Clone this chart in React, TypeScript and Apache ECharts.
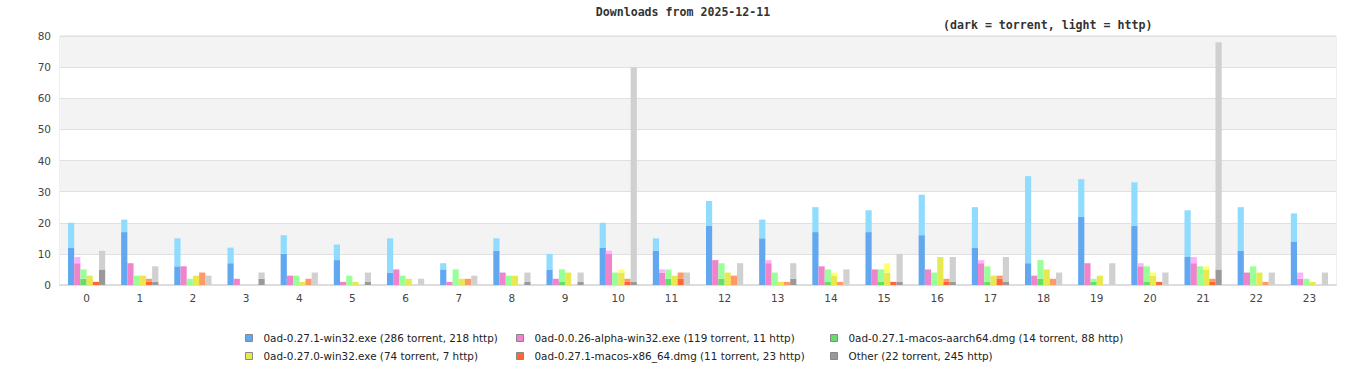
import React, { useEffect, useRef } from "react";
import * as echarts from "echarts";

const hours = Array.from({ length: 24 }, (_, i) => String(i));

const fileNames = [
  "0ad-0.27.1-win32.exe (286 torrent, 218 http)",
  "0ad-0.0.26-alpha-win32.exe (119 torrent, 11 http)",
  "0ad-0.27.1-macos-aarch64.dmg (14 torrent, 88 http)",
  "0ad-0.27.0-win32.exe (74 torrent, 7 http)",
  "0ad-0.27.1-macos-x86_64.dmg (11 torrent, 23 http)",
  "Other (22 torrent, 245 http)",
];

// torrent (dark) and http (light) downloads per hour
const win32Torrent = [12, 17, 6, 7, 10, 8, 4, 5, 11, 5, 12, 11, 19, 15, 17, 17, 16, 12, 7, 22, 19, 9, 11, 14];
const win32Http = [8, 4, 9, 5, 6, 5, 11, 2, 4, 5, 8, 4, 8, 6, 8, 7, 13, 13, 28, 12, 14, 15, 14, 9];
const alphaTorrent = [7, 7, 6, 2, 3, 1, 5, 1, 4, 2, 10, 4, 8, 7, 6, 5, 5, 7, 3, 7, 6, 7, 4, 2];
const alphaHttp = [2, 0, 0, 0, 0, 0, 0, 0, 0, 0, 1, 1, 0, 1, 0, 0, 0, 1, 0, 0, 1, 2, 0, 2];
const aarchTorrent = [2, 0, 0, 0, 0, 0, 0, 0, 0, 1, 0, 2, 2, 0, 1, 1, 0, 1, 2, 1, 1, 0, 0, 0];
const aarchHttp = [3, 3, 2, 0, 3, 3, 3, 5, 3, 4, 4, 3, 5, 4, 4, 4, 4, 5, 6, 1, 5, 6, 6, 2];
const w270Torrent = [3, 3, 3, 0, 1, 1, 2, 2, 3, 4, 4, 3, 4, 1, 3, 4, 9, 3, 5, 3, 3, 5, 4, 1];
const w270Http = [0, 0, 0, 0, 0, 0, 0, 0, 0, 0, 1, 0, 0, 0, 1, 3, 0, 0, 0, 0, 1, 1, 0, 0];
const x86Torrent = [1, 1, 0, 0, 0, 0, 0, 0, 0, 0, 1, 2, 0, 0, 0, 1, 1, 2, 0, 0, 1, 1, 0, 0];
const x86Http = [0, 1, 4, 0, 2, 0, 0, 2, 0, 0, 1, 2, 3, 1, 1, 0, 1, 1, 2, 0, 0, 1, 1, 0];
const otherTorrent = [5, 1, 0, 2, 0, 1, 0, 0, 1, 1, 1, 0, 0, 2, 0, 1, 1, 1, 0, 0, 0, 5, 0, 0];
const otherHttp = [6, 5, 3, 2, 4, 3, 2, 3, 3, 3, 69, 4, 7, 5, 5, 9, 8, 8, 4, 7, 4, 73, 4, 4];

const yTicks = { min: 0, max: 80, interval: 10 };

const torrentData = [win32Torrent, alphaTorrent, aarchTorrent, w270Torrent, x86Torrent, otherTorrent];
const httpData = [win32Http, alphaHttp, aarchHttp, w270Http, x86Http, otherHttp];

const darkColors = ["#62a8f0", "#f084cc", "#66dd66", "#e8e850", "#ff6633", "#999999"];
const lightColors = ["#90dcff", "#ffb0ff", "#99ff99", "#ffff70", "#ff9966", "#d0d0d0"];

const legendColumns = [
  { left: 245, items: [0, 3] },
  { left: 516, items: [1, 4] },
  { left: 830, items: [2, 5] },
];

export default function App() {
  const ref = useRef<HTMLDivElement>(null);
  useEffect(() => {
    if (!ref.current) return;
    document.body.style.margin = "0";
    const chart = echarts.init(ref.current, null, { renderer: "svg" });
    const series: any[] = [];
    fileNames.forEach((name, i) => {
      series.push({
        name,
        type: "bar",
        stack: "s" + i,
        data: torrentData[i],
        itemStyle: { color: darkColors[i] },
        barCategoryGap: "30%",
        barGap: "0%",
      });
      series.push({
        name: name + " http",
        type: "bar",
        stack: "s" + i,
        data: httpData[i],
        itemStyle: { color: lightColors[i] },
        barCategoryGap: "30%",
        barGap: "0%",
      });
    });
    chart.setOption({
      animation: false,
      backgroundColor: "#ffffff",
      title: [
        {
          text: "Downloads from 2025-12-11",
          left: "center",
          top: 6,
          padding: 0,
          textStyle: {
            fontFamily: "DejaVu Sans Mono",
            fontWeight: "bold",
            fontSize: 11.6,
            color: "#333333",
          },
        },
        {
          text: "(dark = torrent, light = http)",
          left: 943,
          top: 19,
          padding: 0,
          textStyle: {
            fontFamily: "DejaVu Sans Mono",
            fontWeight: "bold",
            fontSize: 11.6,
            color: "#333333",
          },
        },
      ],
      legend: legendColumns.map((col) => ({
        orient: "vertical",
        left: col.left,
        top: 332,
        padding: 0,
        itemGap: 6,
        itemWidth: 7,
        itemHeight: 7,
        icon: "rect",
        selectedMode: false,
        data: col.items.map((k) => ({
          name: fileNames[k],
          itemStyle: { color: darkColors[k], borderColor: "#888888", borderWidth: 1 },
        })),
        textStyle: {
          fontFamily: "DejaVu Sans",
          fontSize: 10.4,
          color: "#222222",
          padding: [0, 0, 0, 6],
          lineHeight: 12,
        },
      })),
      grid: {
        left: 60,
        top: 36,
        width: 1276,
        height: 249,
        show: true,
        borderColor: "#dddddd",
        borderWidth: 1,
        backgroundColor: "transparent",
      },
      xAxis: {
        type: "category",
        data: hours,
        axisTick: { show: false },
        axisLine: { lineStyle: { color: "#dddddd", width: 2 } },
        axisLabel: {
          fontFamily: "DejaVu Sans",
          fontSize: 10.5,
          color: "#444444",
          margin: 7,
        },
      },
      yAxis: {
        type: "value",
        min: yTicks.min,
        max: yTicks.max,
        interval: yTicks.interval,
        axisLine: { show: false },
        axisTick: { show: false },
        axisLabel: {
          fontFamily: "DejaVu Sans",
          fontSize: 10.5,
          color: "#444444",
          margin: 9,
        },
        splitLine: { lineStyle: { color: "#e0e0e0", width: 1 } },
        splitArea: { show: true, areaStyle: { color: ["#ffffff", "#f3f3f3"] } },
      },
      series,
    });
    return () => chart.dispose();
  }, []);
  return <div ref={ref} style={{ width: 1366, height: 380 }} />;
}
